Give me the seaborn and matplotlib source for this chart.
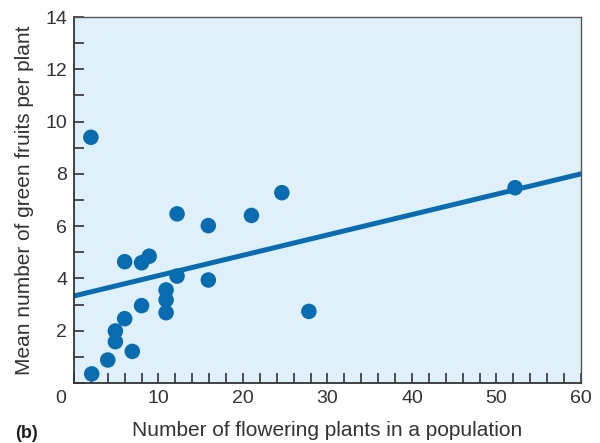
import matplotlib.pyplot as plt
import matplotlib.transforms as mtransforms
import numpy as np
import pandas as pd
import seaborn as sns

# number of flowering plants vs mean green fruits per plant
plants = [2.0, 2.1, 4.0, 4.9, 4.9, 6.0, 6.9, 6.0, 8.0, 8.9, 8.0, 10.9, 10.9, 10.9,
          12.2, 15.9, 15.9, 12.2, 21.0, 24.6, 27.8, 52.2]
fruits = [9.4, 0.35, 0.88, 1.58, 1.99, 2.46, 1.21, 4.64, 4.6, 4.85, 2.96, 3.56, 3.18, 2.69,
          4.09, 3.94, 6.02, 6.47, 6.41, 7.28, 2.74, 7.47]

# regression line end points
line_x = [0, 60]
line_y = [3.33, 8.0]

blue = '#0a6cb0'
dark = '#333333'

sns.set_style("ticks")
plt.rcParams['font.family'] = ['Liberation Sans', 'DejaVu Sans']

df = pd.DataFrame({'plants': plants, 'fruits': fruits})
lf = pd.DataFrame({'x': line_x, 'y': line_y})

fig = plt.figure(figsize=(6, 4.43), dpi=100)
ax = fig.add_axes([0.1233, 0.1354, 0.8450, 0.8262])
ax.set_facecolor('#dff0fb')

sns.lineplot(data=lf, x='x', y='y', color=blue, linewidth=3.6, ax=ax, zorder=2)
sns.scatterplot(data=df, x='plants', y='fruits', color=blue, s=125, edgecolor='none',
                ax=ax, zorder=3)

ax.set_xlim(0, 60)
ax.set_ylim(0, 14)
ax.set_xticks(np.arange(0, 61, 2))
ax.set_xticklabels([str(v) if v % 10 == 0 else '' for v in range(0, 61, 2)])
ax.set_yticks(np.arange(0, 15, 1))
ax.set_yticklabels([str(v) if v % 2 == 0 and v > 0 else '' for v in range(0, 15)])
ax.tick_params(direction='in', length=7, width=1.2, color=dark, labelcolor=dark,
               labelsize=14, pad=5)

# shift "0" left so it sits off the corner
lab0 = ax.get_xticklabels()[0]
lab0.set_transform(lab0.get_transform() + mtransforms.ScaledTranslation(-13 / 100, 0, fig.dpi_scale_trans))

for side in ['left', 'bottom']:
    ax.spines[side].set_color(dark)
    ax.spines[side].set_linewidth(1.3)
for side in ['top', 'right']:
    ax.spines[side].set_visible(True)
    ax.spines[side].set_color('#555555')
    ax.spines[side].set_linewidth(1.0)

ax.set_xlabel('Number of flowering plants in a population', fontsize=15, color=dark, labelpad=10)
ax.set_ylabel('Mean number of green fruits per plant', fontsize=15, color=dark, labelpad=8)

fig.text(0.025, 0.002, '(b)', fontsize=13, fontweight='bold', color='#222222', va='bottom')

fig.savefig('out.png', dpi=100)
